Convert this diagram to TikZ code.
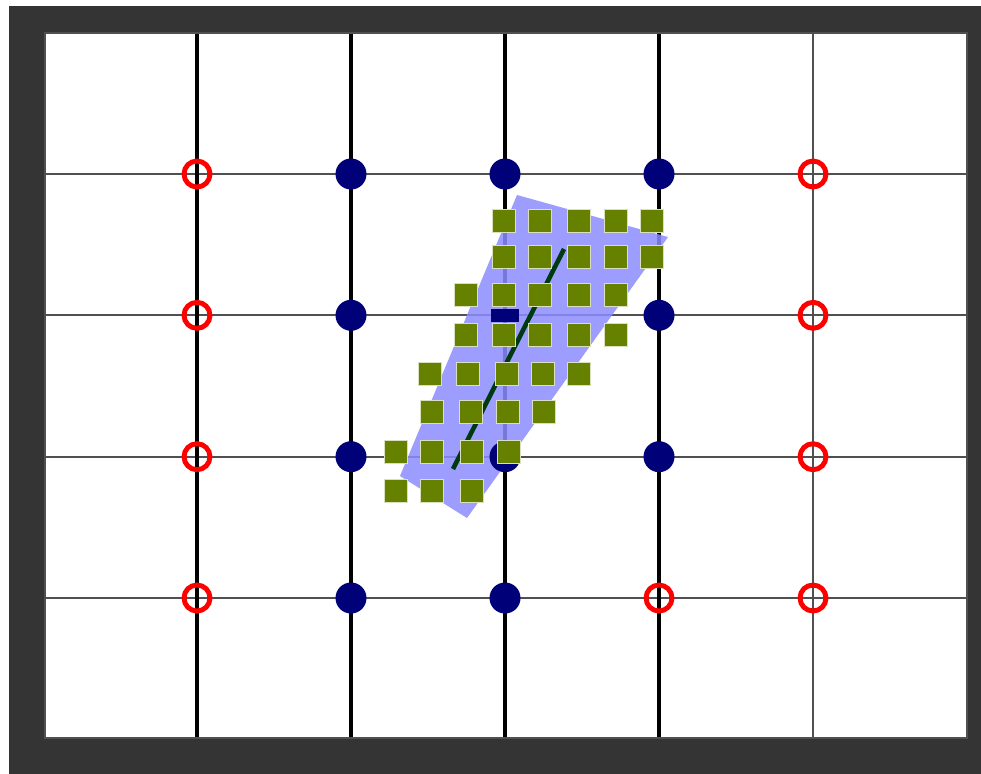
\documentclass[tikz,border=0pt]{standalone}
\usetikzlibrary{calc}
\definecolor{stone}{HTML}{343434}
\definecolor{navy}{HTML}{000078}
\definecolor{ringred}{HTML}{FF0000}
\definecolor{olive}{HTML}{668000}
\definecolor{hatchblue}{HTML}{8C8CFF}
\definecolor{trail}{HTML}{003A10}
\definecolor{gridgray}{HTML}{505050}
\tikzset{
  frame/.style={draw=gridgray,line width=1.1pt},
  majorline/.style={draw=black,line width=1.9pt},
  minorline/.style={draw=gridgray,line width=1.1pt},
  opendot/.style={circle,draw=ringred,line width=2.8pt,minimum size=0.52cm,inner sep=0pt},
  filldot/.style={circle,fill=navy,minimum size=0.62cm,inner sep=0pt},
  cell/.style={rectangle,fill=olive,draw=white!75!olive,line width=.3pt,minimum size=0.45cm,inner sep=0pt},
  shadeband/.style={fill=hatchblue,fill opacity=.85},
  pathline/.style={draw=trail,line width=2.6pt},
}
\begin{document}
\begin{tikzpicture}[x=0.02cm,y=-0.02cm]
  % background and board
  \fill[white] (0,0) rectangle (981,774);
  \fill[stone] (9,6) rectangle (981,774);
  \fill[white] (45,33) rectangle (967,738);
  % grid
  \foreach \gy in {174,315.3,456.7,598}
    \draw[minorline] (45,\gy) -- (967,\gy);
  \foreach \gx in {197,351,505,659}
    \draw[majorline] (\gx,33) -- (\gx,738);
  \draw[minorline] (813,33) -- (813,738);
  \draw[frame] (45,33) rectangle (967,738);

  % grid points, column by row
  \foreach \col/\gx in {1/197,2/351,3/505,4/659,5/813}
    \foreach \row/\gy in {1/174,2/315.3,3/456.7,4/598}
      \coordinate (g-\col-\row) at (\gx,\gy);

  \foreach \c/\r in {1/1,1/2,1/3,1/4,5/1,5/2,5/3,5/4,4/4}
    \node[opendot] (ring-\c-\r) at (g-\c-\r) {};
  \foreach \c/\r in {2/1,3/1,4/1,2/2,4/2,2/3,4/3,2/4,3/4}
    \node[filldot] (dot-\c-\r) at (g-\c-\r) {};

  % shaded band
  \coordinate (b1) at (517,195);
  \coordinate (b2) at (668,237);
  \coordinate (b3) at (467,518);
  \coordinate (b4) at (400,476);
  \fill[shadeband] (b1) -- (b2) -- (b3) -- (b4) -- cycle;
  \node[filldot] (dot-3-3) at (g-3-3) {};
  \node[rectangle,fill=navy,minimum width=0.56cm,minimum height=0.26cm,inner sep=0pt] (dot-3-2) at (g-3-2) {};

  % trace under the squares
  \coordinate (t1) at (564,249);
  \coordinate (t2) at (453,469);
  \draw[pathline] (t1) -- (t2);

  % squares, row by row
  \foreach \sx [count=\i] in {504,540,579,616,652}
    \node[cell] (sq-1-\i) at (\sx,221) {};
  \foreach \sx [count=\i] in {504,540,579,616,652}
    \node[cell] (sq-2-\i) at (\sx,257) {};
  \foreach \sx [count=\i] in {466,504,540,579,616}
    \node[cell] (sq-3-\i) at (\sx,295) {};
  \foreach \sx [count=\i] in {466,504,540,579,616}
    \node[cell] (sq-4-\i) at (\sx,335) {};
  \foreach \sx [count=\i] in {430,468,507,543,579}
    \node[cell] (sq-5-\i) at (\sx,374) {};
  \foreach \sx [count=\i] in {432,471,508,544}
    \node[cell] (sq-6-\i) at (\sx,412) {};
  \foreach \sx [count=\i] in {396,432,472,509}
    \node[cell] (sq-7-\i) at (\sx,452) {};
  \foreach \sx [count=\i] in {396,432,472}
    \node[cell] (sq-8-\i) at (\sx,491) {};
\end{tikzpicture}
\end{document}
